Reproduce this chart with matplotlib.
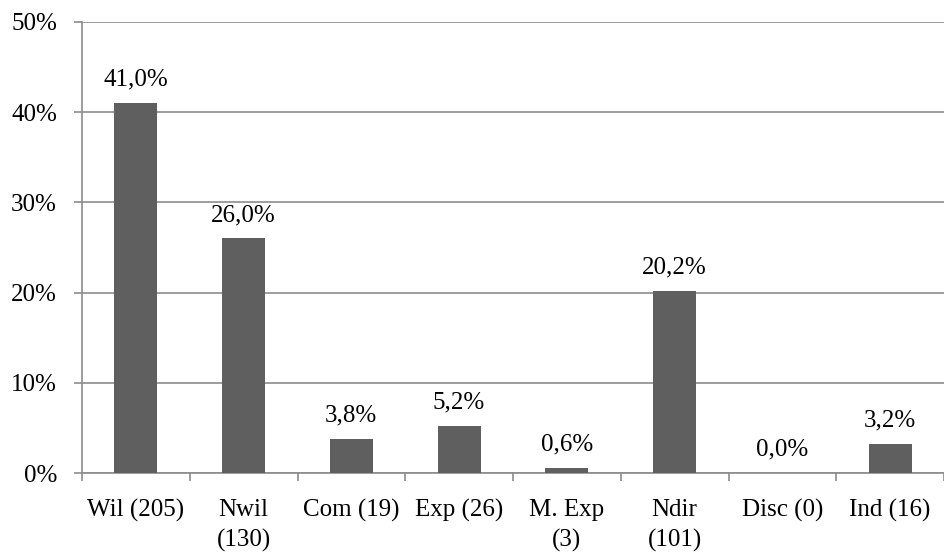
import matplotlib
matplotlib.use("Agg")
import matplotlib.pyplot as plt
import numpy as np

categories = ["Wil (205)", "Nwil\n(130)", "Com (19)", "Exp (26)", "M. Exp\n(3)",
              "Ndir\n(101)", "Disc (0)", "Ind (16)"]
values = [41.0, 26.0, 3.8, 5.2, 0.6, 20.2, 0.0, 3.2]
yticks = [0, 10, 20, 30, 40, 50]

BAR = "#5f5f5f"
GRID = "#8c8c8c"
FS = 18

plt.rcParams["font.family"] = ["Liberation Serif", "DejaVu Serif"]

fig = plt.figure(figsize=(9.44, 5.53), dpi=100, facecolor="white")
ax = fig.add_axes([82 / 944, 1 - 473 / 553, (944 - 82) / 944, 451 / 553])

x = np.arange(len(categories))
ax.bar(x, values, width=0.4, color=BAR, zorder=3)
for xi, v in zip(x, values):
    ax.annotate(f"{v:.1f}%".replace(".", ","), (xi, v), xytext=(0, 9),
                textcoords="offset points", ha="center", va="bottom",
                fontsize=FS, color="black")

ax.set_xlim(-0.5, len(categories) - 0.5)
ax.set_ylim(0, 50)
ax.set_yticks(yticks)
ax.set_yticklabels([f"{t}%" for t in yticks], fontsize=FS)
ax.yaxis.grid(True, color=GRID, linewidth=1.2, zorder=0)

ax.set_xticks(x)
ax.set_xticklabels(categories, fontsize=FS, linespacing=1.45)
ax.set_xticks(np.arange(len(categories) + 1) - 0.5, minor=True)
ax.tick_params(axis="x", which="major", length=0, pad=19)
ax.tick_params(axis="x", which="minor", length=6, color=GRID, width=1.2)
ax.tick_params(axis="y", length=6, color=GRID, width=1.2, pad=12)

for side in ["top", "right"]:
    ax.spines[side].set_visible(False)
for side in ["left", "bottom"]:
    ax.spines[side].set_color(GRID)
    ax.spines[side].set_linewidth(1.2)

fig.savefig("out.png", dpi=100, facecolor="white")
